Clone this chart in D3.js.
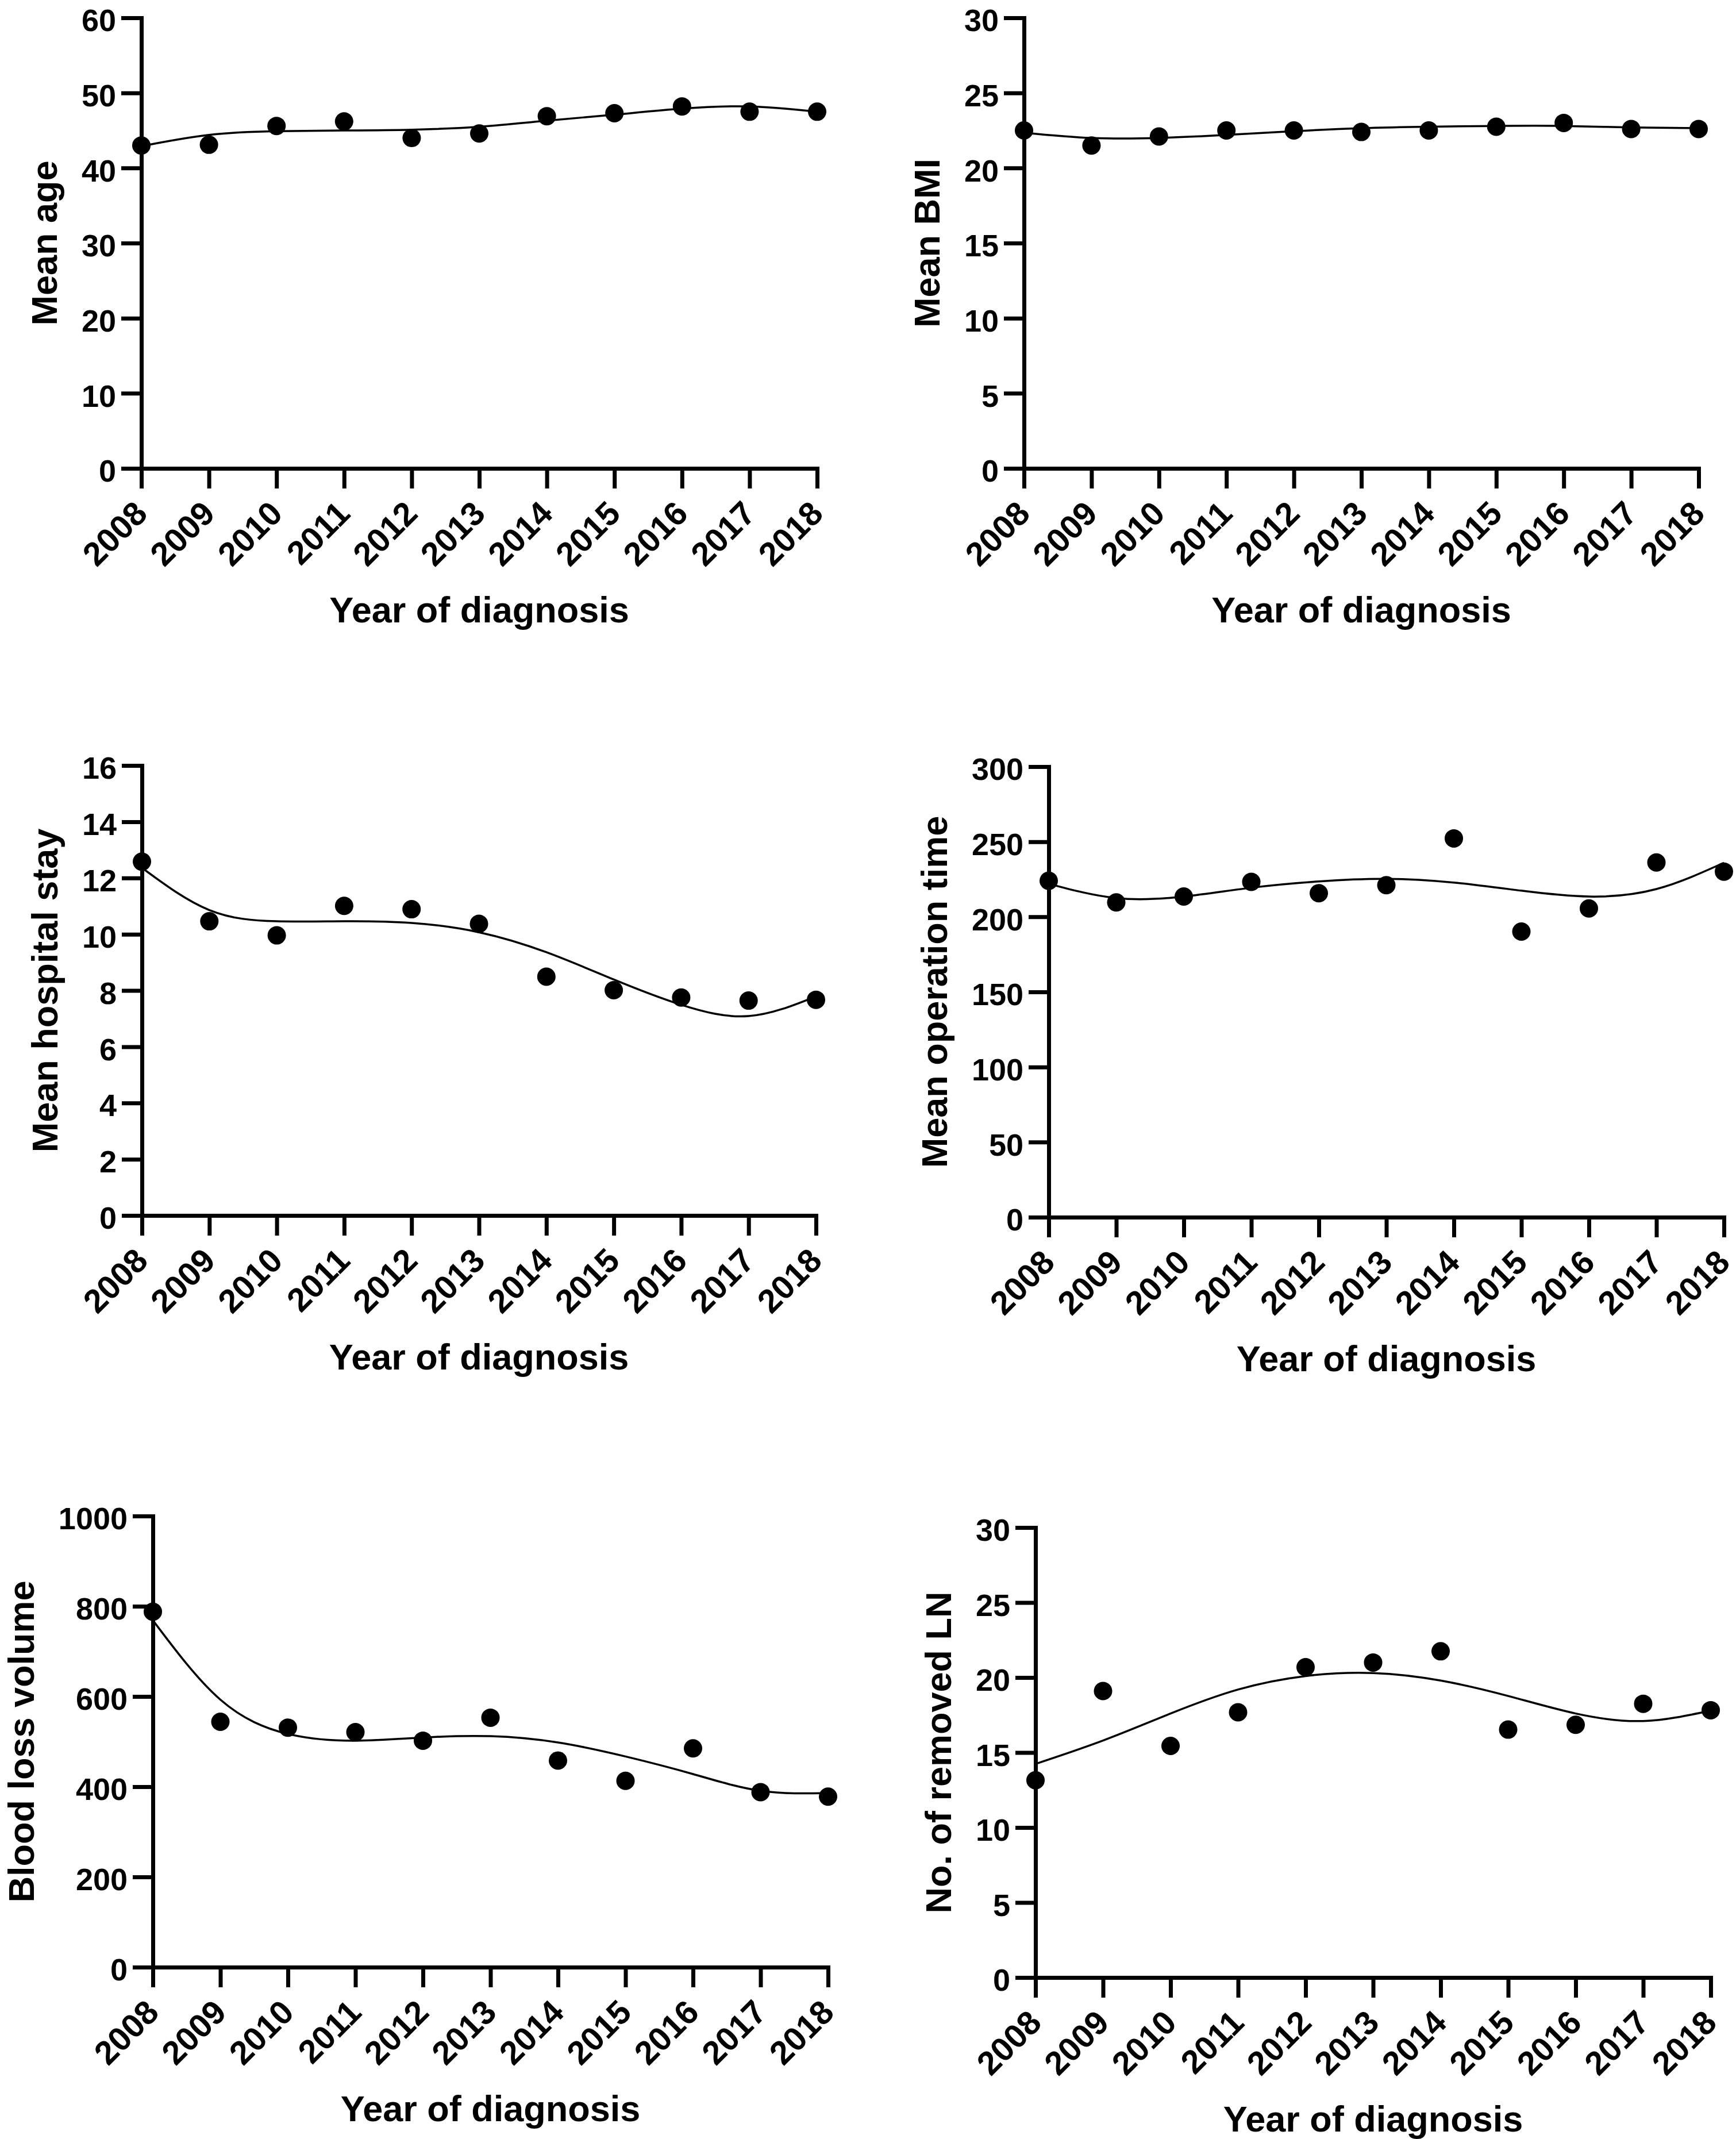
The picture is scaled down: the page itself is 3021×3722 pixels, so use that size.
<!DOCTYPE html>
<html>
<head>
<meta charset="utf-8">
<script src="https://cdn.jsdelivr.net/npm/d3@7"></script>
<style>
  body { margin: 0; background: #fff; }
  text { font-family: "Liberation Sans", Arial, sans-serif; font-weight: bold; fill: #000; }
</style>
</head>
<body>
<div id="canvas"></div>
<script>
const canvas = d3.select("#canvas");

// years on every x axis
const years = [2008, 2009, 2010, 2011, 2012, 2013, 2014, 2015, 2016, 2017, 2018];

// mean age
const ageValues = [43.0, 43.1, 45.6, 46.2, 44.0, 44.6, 46.9, 47.3, 48.2, 47.5, 47.5];
const ageFit = [42.9, 44.4, 44.9, 45.0, 45.1, 45.5, 46.3, 47.1, 47.9, 48.2, 47.5];
const ageTicks = [0, 10, 20, 30, 40, 50, 60];

// mean BMI
const bmiValues = [22.5, 21.5, 22.1, 22.5, 22.5, 22.4, 22.5, 22.75, 23.0, 22.6, 22.6];
const bmiFit = [22.35, 22.0, 22.0, 22.2, 22.45, 22.65, 22.75, 22.8, 22.8, 22.7, 22.65];
const bmiTicks = [0, 5, 10, 15, 20, 25, 30];

// mean hospital stay
const stayValues = [12.58, 10.46, 9.96, 11.01, 10.89, 10.37, 8.49, 8.01, 7.75, 7.64, 7.67];
const stayFit = [12.36, 10.86, 10.46, 10.46, 10.4, 10.07, 9.36, 8.39, 7.49, 7.09, 7.79];
const stayTicks = [0, 2, 4, 6, 8, 10, 12, 14, 16];

// mean operation time
const opValues = [224, 209.6, 213.5, 223.3, 215.7, 221.1, 252.2, 190.2, 205.6, 236.2, 230.1];
const opFit = [222, 212.5, 213.5, 219.4, 223.6, 225.3, 222.8, 217.4, 213.5, 218.5, 236];
const opTicks = [0, 50, 100, 150, 200, 250, 300];

// blood loss volume
const bloodValues = [788, 544, 531, 521, 502, 553, 458, 413, 485, 388, 378];
const bloodFit = [769, 593, 517, 502, 509, 512, 498, 467, 428, 391, 386];
const bloodTicks = [0, 200, 400, 600, 800, 1000];

// removed lymph nodes
const lnValues = [13.15, 19.1, 15.44, 17.68, 20.69, 21.0, 21.75, 16.53, 16.85, 18.25, 17.82];
const lnFit = [14.24, 15.8, 17.6, 19.2, 20.1, 20.3, 19.8, 18.77, 17.6, 17.1, 17.8];
const lnTicks = [0, 5, 10, 15, 20, 25, 30];

const xTitle = "Year of diagnosis";

const svg = canvas.append("svg").attr("width", 3021).attr("height", 3722);
svg.append("rect").attr("width", 3021).attr("height", 3722).attr("fill", "#fff");

const createPanel = (p) => {
  const x = d3.scaleLinear().domain([years[0], years[years.length - 1]]).range([p.left, p.right]);
  const y = d3.scaleLinear().domain([0, p.ticks[p.ticks.length - 1]]).range([p.bottom, p.top]);

  const g = svg.append("g");

  // y axis
  const ya = g.append("g")
    .attr("transform", `translate(${p.left},0)`)
    .call(d3.axisLeft(y).tickValues(p.ticks).tickFormat(d3.format("d"))
      .tickSize(35).tickSizeOuter(0).tickPadding(9));
  ya.select(".domain").attr("stroke-width", 7).attr("stroke-linecap", "square");
  ya.selectAll(".tick line").attr("stroke-width", 7);
  ya.selectAll(".tick text")
    .attr("font-size", 54)
    .attr("font-family", null)
    .attr("dy", "0.42em");

  // x axis
  const xa = g.append("g")
    .attr("transform", `translate(0,${p.bottom})`)
    .call(d3.axisBottom(x).tickValues(years).tickFormat(d3.format("d")).tickSize(35).tickSizeOuter(0));
  xa.select(".domain").attr("stroke-width", 7).attr("stroke-linecap", "square");
  xa.selectAll(".tick line").attr("stroke-width", 7);
  xa.selectAll(".tick text")
    .attr("font-size", 58)
    .attr("font-family", null)
    .attr("text-anchor", "end")
    .attr("y", 0)
    .attr("dy", 0)
    .attr("transform", "translate(13,82) rotate(-45)");

  // y title placed left of the widest tick label
  let minX = Infinity;
  ya.selectAll(".tick text").each(function () {
    const b = this.getBBox();
    minX = Math.min(minX, b.x);
  });
  g.append("text")
    .attr("transform", `translate(${p.left + minX - 43},${(p.top + p.bottom) / 2}) rotate(-90)`)
    .attr("text-anchor", "middle")
    .attr("font-size", 63)
    .text(p.title);

  g.append("text")
    .attr("x", (p.left + p.right) / 2)
    .attr("y", p.bottom + 268)
    .attr("text-anchor", "middle")
    .attr("font-size", 63)
    .text(xTitle);

  // fitted curve
  const line = d3.line()
    .x((d, i) => x(years[i]))
    .y((d) => y(d))
    .curve(d3.curveNatural);
  g.append("path")
    .datum(p.fit)
    .attr("d", line)
    .attr("fill", "none")
    .attr("stroke", "#000")
    .attr("stroke-width", 3.5);

  // points
  g.selectAll("circle")
    .data(p.values)
    .enter()
    .append("circle")
    .attr("cx", (d, i) => x(years[i]))
    .attr("cy", (d) => y(d))
    .attr("r", 16)
    .attr("fill", "#000");
};

const panels = [
  { title: "Mean age", values: ageValues, fit: ageFit, ticks: ageTicks, left: 246, right: 1422, top: 31, bottom: 815 },
  { title: "Mean BMI", values: bmiValues, fit: bmiFit, ticks: bmiTicks, left: 1782, right: 2956, top: 31, bottom: 815 },
  { title: "Mean hospital stay", values: stayValues, fit: stayFit, ticks: stayTicks, left: 247, right: 1420, top: 1332, bottom: 2115 },
  { title: "Mean operation time", values: opValues, fit: opFit, ticks: opTicks, left: 1825, right: 3000, top: 1334, bottom: 2118 },
  { title: "Blood loss volume", values: bloodValues, fit: bloodFit, ticks: bloodTicks, left: 266, right: 1441, top: 2638, bottom: 3423 },
  { title: "No. of removed LN", values: lnValues, fit: lnFit, ticks: lnTicks, left: 1802, right: 2977, top: 2658, bottom: 3441 }
];

panels.forEach(createPanel);
</script>
</body>
</html>
